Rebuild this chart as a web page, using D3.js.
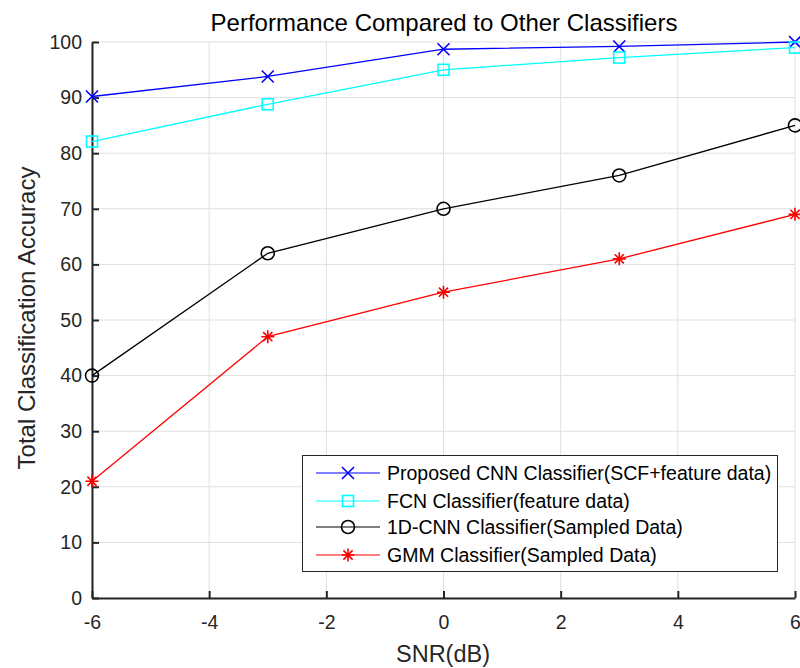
<!DOCTYPE html>
<html><head><meta charset="utf-8">
<script src="https://cdn.jsdelivr.net/npm/d3@7"></script>
<style>body{margin:0;background:#fff}svg{display:block}text{font-family:"Liberation Sans",Arial,Helvetica,sans-serif}</style>
</head><body>
<svg id="c" width="800" height="668"></svg>
<script>
const snr = [-6, -3, 0, 3, 6];
const proposedCNN = [90.2, 93.8, 98.7, 99.2, 100];
const fcn = [82.1, 88.8, 95.0, 97.2, 99.0];
const cnn1d = [40, 62, 70, 76, 85];
const gmm = [21, 47, 55, 61, 69];
const xTicks = [-6, -4, -2, 0, 2, 4, 6];
const yTicks = [0, 10, 20, 30, 40, 50, 60, 70, 80, 90, 100];
const seriesNames = ["Proposed CNN Classifier(SCF+feature data)", "FCN Classifier(feature data)", "1D-CNN Classifier(Sampled Data)", "GMM Classifier(Sampled Data)"];
const seriesColors = ["#0000ff", "#00ffff", "#000000", "#ff0000"];
const seriesMarkers = ["x", "square", "circle", "star"];
const seriesValues = [proposedCNN, fcn, cnn1d, gmm];

const svg = d3.select("#c");
const L = 92, R = 795, T = 42, B = 598;
const x = d3.scaleLinear().domain([-6, 6]).range([L, R]);
const y = d3.scaleLinear().domain([0, 100]).range([B, T]);
const axisCol = "#262626";
const fmt = d => String(d);

// grid
const g = svg.append("g");
g.selectAll(".gx").data(xTicks).enter().append("line")
  .attr("x1", d => x(d)).attr("x2", d => x(d)).attr("y1", T).attr("y2", B)
  .attr("stroke", "#dfdfdf").attr("stroke-width", 1);
g.selectAll(".gy").data(yTicks).enter().append("line")
  .attr("y1", d => y(d)).attr("y2", d => y(d)).attr("x1", L).attr("x2", R)
  .attr("stroke", "#dfdfdf").attr("stroke-width", 1);

// axes
const xAxis = d3.axisBottom(x).tickValues(xTicks).tickSizeInner(-7).tickSizeOuter(0).tickPadding(17).tickFormat(fmt);
const yAxis = d3.axisLeft(y).tickValues(yTicks).tickSizeInner(-7).tickSizeOuter(0).tickPadding(10).tickFormat(fmt);
const gx = svg.append("g").attr("transform", `translate(0,${B})`).call(xAxis);
const gy = svg.append("g").attr("transform", `translate(${L},0)`).call(yAxis);
[gx, gy].forEach(a => {
  a.select(".domain").attr("stroke", axisCol).attr("stroke-width", 2);
  a.selectAll(".tick line").attr("stroke", axisCol).attr("stroke-width", 2);
  a.selectAll(".tick text").attr("fill", axisCol).attr("font-size", 19.5).attr("font-family", '"Liberation Sans",Arial,sans-serif');
});
gx.selectAll(".tick text").attr("dy", "0.71em");

function marker(sel, type, color) {
  const s = 6;
  if (type === "x") {
    sel.append("path").attr("d", `M${-s},${-s}L${s},${s}M${-s},${s}L${s},${-s}`).attr("stroke", color).attr("stroke-width", 1.6).attr("fill", "none");
  } else if (type === "square") {
    sel.append("rect").attr("x", -5.5).attr("y", -5.5).attr("width", 11).attr("height", 11).attr("stroke", color).attr("stroke-width", 1.6).attr("fill", "none");
  } else if (type === "circle") {
    sel.append("circle").attr("r", 6.5).attr("stroke", color).attr("stroke-width", 1.6).attr("fill", "none");
  } else if (type === "star") {
    const a = 6.5, b = 4.6;
    sel.append("path").attr("d", `M${-a},0L${a},0M0,${-a}L0,${a}M${-b},${-b}L${b},${b}M${-b},${b}L${b},${-b}`).attr("stroke", color).attr("stroke-width", 1.6).attr("fill", "none");
  }
}

const line = d3.line().x((d, i) => x(snr[i])).y(d => y(d));
seriesValues.forEach((vals, k) => {
  svg.append("path").datum(vals).attr("d", line).attr("fill", "none").attr("stroke", seriesColors[k]).attr("stroke-width", 1.3);
  vals.forEach((v, i) => {
    const m = svg.append("g").attr("transform", `translate(${x(snr[i])},${y(v)})`);
    marker(m, seriesMarkers[k], seriesColors[k]);
  });
});

// title & labels
svg.append("text").attr("x", 444).attr("y", 31).attr("text-anchor", "middle").attr("font-size", 24).attr("fill", "#000").text("Performance Compared to Other Classifiers");
svg.append("text").attr("x", 443).attr("y", 662).attr("text-anchor", "middle").attr("font-size", 23.5).attr("fill", axisCol).text("SNR(dB)");
svg.append("text").attr("transform", "translate(35,318) rotate(-90)").attr("text-anchor", "middle").attr("font-size", 24).attr("fill", axisCol).text("Total Classification Accuracy");

// legend
const lg = svg.append("g");
lg.append("rect").attr("x", 302.5).attr("y", 455.5).attr("width", 475).attr("height", 116).attr("fill", "#fff").attr("stroke", axisCol).attr("stroke-width", 1);
const rowY = [473, 501, 527, 555];
seriesNames.forEach((name, k) => {
  lg.append("line").attr("x1", 316).attr("x2", 380).attr("y1", rowY[k]).attr("y2", rowY[k]).attr("stroke", seriesColors[k]).attr("stroke-width", 1.2);
  const m = lg.append("g").attr("transform", `translate(348,${rowY[k]})`);
  marker(m, seriesMarkers[k], seriesColors[k]);
  lg.append("text").attr("x", 387).attr("y", rowY[k]).attr("dy", "0.35em").attr("font-size", 19.5).attr("fill", "#000").text(name);
});
</script>
</body></html>
